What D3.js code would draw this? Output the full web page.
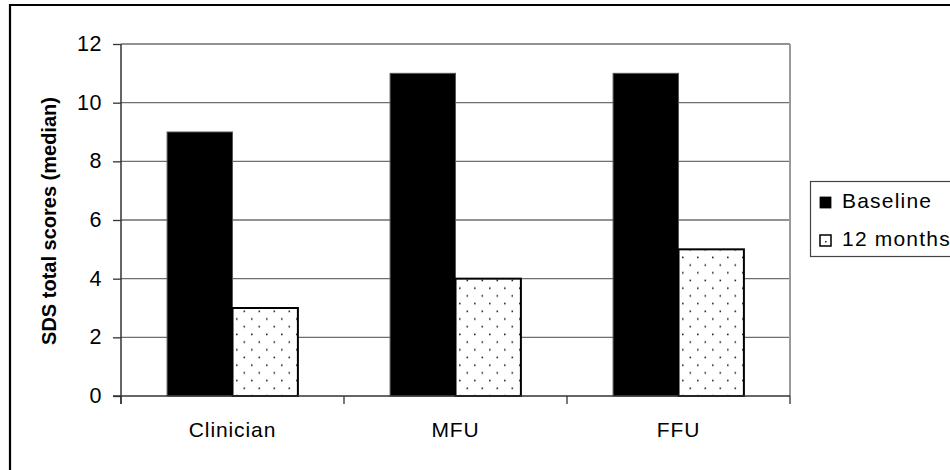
<!DOCTYPE html>
<html>
<head>
<meta charset="utf-8">
<script src="https://cdn.jsdelivr.net/npm/d3@7"></script>
<style>
  html, body { margin: 0; padding: 0; background: #fff; }
  svg { display: block; font-family: "Liberation Sans", Arial, sans-serif; }
</style>
</head>
<body>
<svg id="chart" width="950" height="470"></svg>
<script>
// Median SDS total scores per rater, at baseline and after 12 months
const categories = ["Clinician", "MFU", "FFU"];
const seriesNames = ["Baseline", "12 months"];
const baselineValues = [9, 11, 11];
const monthsValues = [3, 4, 5];
const yTicks = [0, 2, 4, 6, 8, 10, 12];
const yTitle = "SDS total scores (median)";

const svg = d3.select("#chart");

// Dotted fill used by the 12-month bars
const defs = svg.append("defs");
const pat = defs.append("pattern")
  .attr("id", "dots")
  .attr("patternUnits", "userSpaceOnUse")
  .attr("width", 15).attr("height", 15.4);
pat.append("rect").attr("width", 15).attr("height", 15.4).attr("fill", "#fff");
pat.append("rect").attr("x", 2.5).attr("y", 2.5).attr("width", 1.6).attr("height", 1.6).attr("fill", "#222");
pat.append("rect").attr("x", 10).attr("y", 10.2).attr("width", 1.6).attr("height", 1.6).attr("fill", "#222");

// Outer frame
svg.append("path")
  .attr("d", "M10,475V5H955")
  .attr("fill", "none").attr("stroke", "#000").attr("stroke-width", 2.2);

const plot = { left: 121, right: 790, top: 44, bottom: 396 };

const y = d3.scaleLinear().domain([0, 12]).range([plot.bottom, plot.top]);
const x0 = d3.scaleBand().domain(categories).range([plot.left, plot.right]).paddingInner(0).paddingOuter(0);
const x1 = d3.scaleBand().domain(seriesNames).range([0, x0.bandwidth()]).paddingInner(0).paddingOuter(0.705);

// Horizontal gridlines
svg.append("g").selectAll("line")
  .data(yTicks.filter(d => d > 0))
  .join("line")
  .attr("x1", plot.left).attr("x2", plot.right)
  .attr("y1", d => y(d)).attr("y2", d => y(d))
  .attr("stroke", "#6e6e6e").attr("stroke-width", 1.3);

// Right edge of plot area
svg.append("line")
  .attr("x1", plot.right).attr("x2", plot.right)
  .attr("y1", plot.top).attr("y2", plot.bottom)
  .attr("stroke", "#9a9a9a").attr("stroke-width", 2);

// Bars
const rows = categories.map((c, i) => ({ cat: c, values: [baselineValues[i], monthsValues[i]] }));
const groups = svg.append("g").selectAll("g")
  .data(rows)
  .join("g")
  .attr("transform", d => `translate(${x0(d.cat)},0)`);

groups.selectAll("rect")
  .data(d => d.values.map((v, j) => ({ series: seriesNames[j], value: v, j })))
  .join("rect")
  .attr("x", d => x1(d.series))
  .attr("width", x1.bandwidth())
  .attr("y", d => y(d.value))
  .attr("height", d => y(0) - y(d.value))
  .attr("fill", d => d.j === 0 ? "#000" : "url(#dots)")
  .attr("stroke", d => d.j === 0 ? "#555" : "#000")
  .attr("stroke-width", d => d.j === 0 ? 1 : 2);

// Y axis
const yAxis = d3.axisLeft(y).tickValues(yTicks).tickSize(8).tickPadding(11).tickSizeOuter(0);
const gy = svg.append("g").attr("transform", `translate(${plot.left},0)`).call(yAxis);
gy.select(".domain").attr("stroke", "#333").attr("stroke-width", 1.5)
  .attr("d", `M0,${plot.top}V${plot.bottom + 8}`);
gy.selectAll(".tick line").attr("stroke", "#333").attr("stroke-width", 1.3);
gy.selectAll(".tick text")
  .attr("font-size", 21.5).attr("fill", "#000")
  .attr("font-family", "'Liberation Sans', Arial, sans-serif")
  .attr("letter-spacing", 0.6)
  .attr("dy", "0.3em");

// X axis with ticks at category boundaries
const gx = svg.append("g").attr("transform", `translate(0,${plot.bottom})`);
gx.append("line")
  .attr("x1", plot.left - 8).attr("x2", plot.right)
  .attr("stroke", "#333").attr("stroke-width", 1.5);
const boundaries = categories.map(c => x0(c)).concat([x0(categories[categories.length - 1]) + x0.bandwidth()]);
gx.selectAll(".bt")
  .data(boundaries)
  .join("line")
  .attr("class", "bt")
  .attr("x1", d => d).attr("x2", d => d)
  .attr("y1", 0).attr("y2", 8)
  .attr("stroke", "#333").attr("stroke-width", 1.3);
gx.selectAll("text")
  .data(categories)
  .join("text")
  .attr("x", d => x0(d) + x0.bandwidth() / 2)
  .attr("y", 40.5)
  .attr("text-anchor", "middle")
  .attr("font-size", 21)
  .attr("letter-spacing", 0.9)
  .text(d => d);

// Y axis title
svg.append("text")
  .attr("transform", "translate(56,221) rotate(-90)")
  .attr("text-anchor", "middle")
  .attr("font-size", 20)
  .attr("font-weight", "bold")
  .text(yTitle);

// Legend
const lg = svg.append("g");
lg.append("rect")
  .attr("x", 810.5).attr("y", 181.5)
  .attr("width", 200).attr("height", 75)
  .attr("fill", "#fff").attr("stroke", "#444").attr("stroke-width", 1.2);
const items = lg.selectAll("g.item")
  .data(seriesNames)
  .join("g")
  .attr("class", "item")
  .attr("transform", (d, i) => `translate(820,${197 + i * 38})`);
items.append("rect")
  .attr("width", 11).attr("height", 11)
  .attr("fill", (d, i) => i === 0 ? "#000" : "#fff")
  .attr("stroke", "#000").attr("stroke-width", (d, i) => i === 0 ? 0.8 : 1.5);
items.filter((d, i) => i === 1).append("rect")
  .attr("x", 5).attr("y", 6).attr("width", 1.5).attr("height", 1.5).attr("fill", "#222");
items.append("text")
  .attr("x", 22).attr("y", 11)
  .attr("font-size", 21)
  .attr("letter-spacing", 1.2)
  .text(d => d);
</script>
</body>
</html>
